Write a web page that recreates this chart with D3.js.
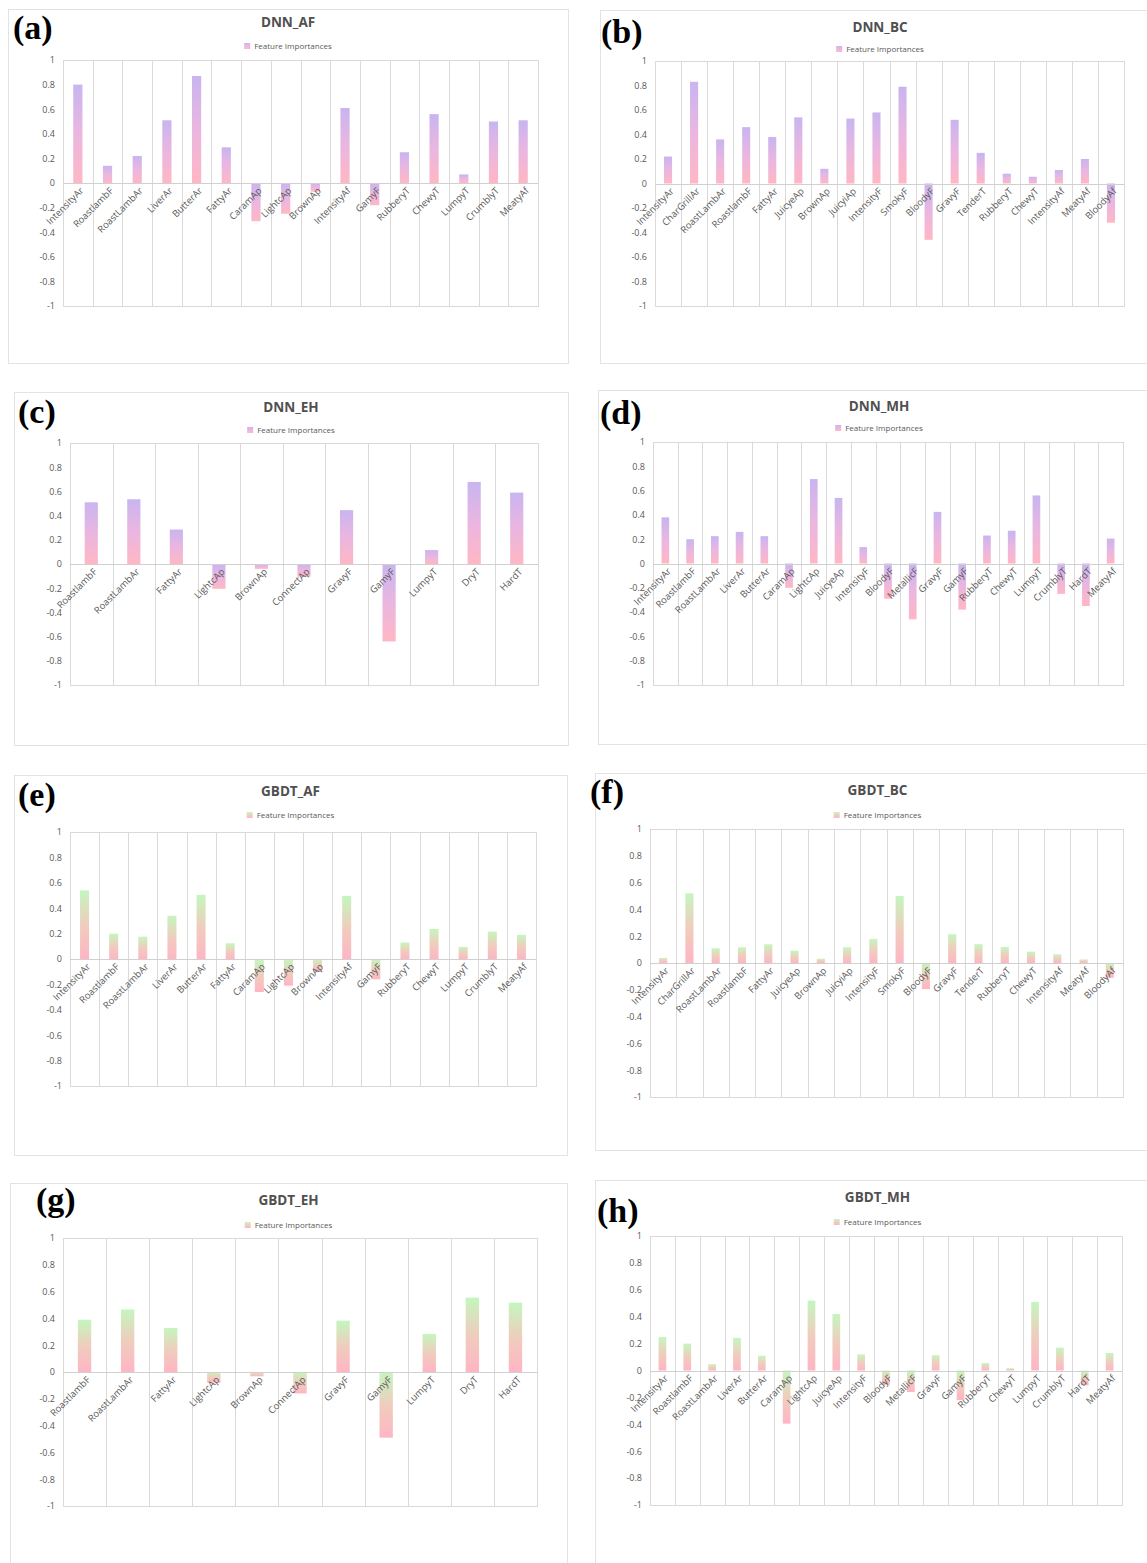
<!DOCTYPE html>
<html>
<head>
<meta charset="utf-8">
<script src="https://cdn.jsdelivr.net/npm/d3@7"></script>
<style>
  html, body { margin: 0; padding: 0; background: #fff; }
  svg { display: block; }
</style>
</head>
<body>
<svg id="fig" width="1147" height="1563"></svg>
<script>
// ---- category labels -------------------------------------------------------
const catsAF = ["IntensityAr", "RoastlambF", "RoastLambAr", "LiverAr", "ButterAr", "FattyAr",
  "CaramAp", "LightcAp", "BrownAp", "IntensityAf", "GamyF", "RubberyT", "ChewyT", "LumpyT",
  "CrumblyT", "MeatyAf"];
const catsBC = ["IntensityAr", "CharGrillAr", "RoastLambAr", "RoastlambF", "FattyAr", "JuicyeAp",
  "BrownAp", "JuicyiAp", "IntensityF", "SmokyF", "BloodyF", "GravyF", "TenderT", "RubberyT",
  "ChewyT", "IntensityAf", "MeatyAf", "BloodyAf"];
const catsEH = ["RoastlambF", "RoastLambAr", "FattyAr", "LightcAp", "BrownAp", "ConnectAp",
  "GravyF", "GamyF", "LumpyT", "DryT", "HardT"];
const catsMH = ["IntensityAr", "RoastlambF", "RoastLambAr", "LiverAr", "ButterAr", "CaramAp",
  "LightcAp", "JuicyeAp", "IntensityF", "BloodyF", "MetallicF", "GravyF", "GamyF", "RubberyT",
  "ChewyT", "LumpyT", "CrumblyT", "HardT", "MeatyAf"];

// ---- feature importances: DNN models ---------------------------------------
const dnnAF = [0.80, 0.14, 0.22, 0.51, 0.87, 0.29, -0.31, -0.25, -0.07, 0.61, -0.18, 0.25, 0.56, 0.07, 0.50, 0.51];
const dnnBC = [0.22, 0.83, 0.36, 0.46, 0.38, 0.54, 0.12, 0.53, 0.58, 0.79, -0.46, 0.52, 0.25, 0.08, 0.055, 0.11, 0.20, -0.32];
const dnnEH = [0.51, 0.535, 0.285, -0.205, -0.04, -0.105, 0.445, -0.64, 0.115, 0.678, 0.59];
const dnnMH = [0.38, 0.20, 0.225, 0.26, 0.225, -0.20, 0.695, 0.54, 0.135, -0.29, -0.46, 0.425, -0.38, 0.23, 0.27, 0.56, -0.25, -0.35, 0.205];

// ---- feature importances: GBDT models --------------------------------------
const gbdtAF = [0.54, 0.20, 0.176, 0.34, 0.505, 0.124, -0.26, -0.21, -0.10, 0.497, -0.16, 0.13, 0.237, 0.095, 0.216, 0.19];
const gbdtBC = [0.037, 0.52, 0.11, 0.117, 0.14, 0.092, 0.032, 0.117, 0.18, 0.50, -0.195, 0.215, 0.14, 0.12, 0.085, 0.065, 0.027, -0.11];
const gbdtEH = [0.39, 0.467, 0.328, -0.08, -0.032, -0.16, 0.383, -0.49, 0.284, 0.555, 0.517];
const gbdtMH = [0.25, 0.20, 0.047, 0.243, 0.11, -0.395, 0.52, 0.42, 0.12, -0.107, -0.16, 0.114, -0.22, 0.055, 0.017, 0.51, 0.17, -0.11, 0.13];

// ---- axis ticks and text ---------------------------------------------------
const yTicks = [1, 0.8, 0.6, 0.4, 0.2, 0, -0.2, -0.4, -0.6, -0.8, -1];
const yTickLabels = ["1", "0.8", "0.6", "0.4", "0.2", "0", "-0.2", "-0.4", "-0.6", "-0.8", "-1"];
const legendText = "Feature Importances";

// ---- panel placement on the page -------------------------------------------
const panels = [
  { tag: "(a)", title: "DNN_AF",  cats: catsAF, vals: dnnAF,  fill: "dnn",
    box: [8, 9, 560, 354],    plot: [63, 60, 538, 306],     titleY: 27,   legendY: 46,   tagXY: [13, 39] },
  { tag: "(b)", title: "DNN_BC",  cats: catsBC, vals: dnnBC,  fill: "dnn",
    box: [600, 10, 560, 353], plot: [655, 61, 1124, 306],   titleY: 32,   legendY: 49,   tagXY: [601, 43] },
  { tag: "(c)", title: "DNN_EH",  cats: catsEH, vals: dnnEH,  fill: "dnn",
    box: [14, 392, 554, 353], plot: [70, 443, 538, 685],    titleY: 412,  legendY: 430,  tagXY: [18, 423] },
  { tag: "(d)", title: "DNN_MH",  cats: catsMH, vals: dnnMH,  fill: "dnn",
    box: [598, 390, 562, 354], plot: [653, 442, 1123, 685], titleY: 411,  legendY: 428,  tagXY: [600, 424] },
  { tag: "(e)", title: "GBDT_AF", cats: catsAF, vals: gbdtAF, fill: "gbdt",
    box: [14, 775, 553, 380], plot: [70, 832, 536, 1086],   titleY: 796,  legendY: 815,  tagXY: [18, 806] },
  { tag: "(f)", title: "GBDT_BC", cats: catsBC, vals: gbdtBC, fill: "gbdt",
    box: [595, 773, 565, 377], plot: [650, 829, 1123, 1097], titleY: 795, legendY: 815,  tagXY: [590, 803] },
  { tag: "(g)", title: "GBDT_EH", cats: catsEH, vals: gbdtEH, fill: "gbdt",
    box: [10, 1183, 557, 400], plot: [63, 1238, 537, 1506], titleY: 1205, legendY: 1225, tagXY: [36, 1211] },
  { tag: "(h)", title: "GBDT_MH", cats: catsMH, vals: gbdtMH, fill: "gbdt",
    box: [595, 1180, 565, 400], plot: [650, 1236, 1122, 1505], titleY: 1202, legendY: 1222, tagXY: [597, 1222] }
];

const sans = '"Open Sans", "Noto Sans", sans-serif';
const serif = '"Liberation Serif", "Times New Roman", serif';
const svg = d3.select("#fig");

// Vertical gradient fills: lavender/green at the top of each bar, pink at the bottom
const defs = svg.append("defs");
const gradients = {
  dnn:  [["0%", "#c8b5f0"], ["50%", "#eab6e0"], ["100%", "#ffb7c4"]],
  gbdt: [["0%", "#c4f6be"], ["50%", "#efcdbd"], ["100%", "#ffb5c4"]]
};
Object.entries(gradients).forEach(([key, stops]) => {
  const g = defs.append("linearGradient").attr("id", "grad-" + key)
    .attr("x1", 0).attr("y1", 0).attr("x2", 0).attr("y2", 1);
  stops.forEach(([o, c]) => g.append("stop").attr("offset", o).attr("stop-color", c));
});

const gridColor = "#d9d9d9";
const textColor = "#595959";

panels.forEach(p => {
  const g = svg.append("g");
  const [bx, by, bw, bh] = p.box;
  const [x0, y0, x1, y1] = p.plot;

  // chart frame
  g.append("rect").attr("x", bx + 0.5).attr("y", by + 0.5)
    .attr("width", bw).attr("height", bh)
    .attr("fill", "#fff").attr("stroke", "#e3e3e3").attr("stroke-width", 1);

  const x = d3.scaleBand().domain(p.cats).range([x0, x1]).paddingInner(0).paddingOuter(0);
  const y = d3.scaleLinear().domain([-1, 1]).range([y1, y0]);

  // plot frame and vertical separators between categories
  g.append("rect").attr("x", x0 + 0.5).attr("y", y0 + 0.5)
    .attr("width", x1 - x0).attr("height", y1 - y0)
    .attr("fill", "none").attr("stroke", gridColor);
  g.append("g").selectAll("line").data(p.cats.slice(1)).join("line")
    .attr("x1", d => Math.round(x(d)) + 0.5).attr("x2", d => Math.round(x(d)) + 0.5)
    .attr("y1", y0).attr("y2", y1)
    .attr("stroke", gridColor);

  // y axis tick labels
  const yAxis = d3.axisLeft(y).tickValues(yTicks).tickSize(0).tickPadding(8)
    .tickFormat((d, i) => yTickLabels[i]);
  const ya = g.append("g").attr("transform", `translate(${x0},0)`).call(yAxis);
  ya.select(".domain").remove();
  ya.selectAll("text").attr("fill", textColor).attr("font-size", 9)
    .style("font-family", sans);

  // bars
  const bw2 = x.bandwidth() * 0.31;
  g.append("g").selectAll("rect").data(p.vals).join("rect")
    .attr("x", (d, i) => x(p.cats[i]) + (x.bandwidth() - bw2) / 2)
    .attr("y", d => y(Math.max(0, d)))
    .attr("width", bw2)
    .attr("height", d => Math.abs(y(d) - y(0)))
    .attr("fill", `url(#grad-${p.fill})`);

  // zero axis line
  g.append("line").attr("x1", x0).attr("x2", x1)
    .attr("y1", Math.round(y(0)) + 0.5).attr("y2", Math.round(y(0)) + 0.5)
    .attr("stroke", "#d0d0d0");

  // rotated category labels hanging from the zero line
  g.append("g").selectAll("text").data(p.cats).join("text")
    .attr("transform", d => `translate(${x(d) + x.bandwidth() / 2 + 4},${y(0) + 6}) rotate(-45)`)
    .attr("text-anchor", "end")
    .attr("dy", "0.35em")
    .attr("font-size", 9.5)
    .attr("fill", textColor)
    .style("font-family", sans)
    .text(d => d);

  // title
  const cx = bx + bw / 2;
  g.append("text").attr("x", cx).attr("y", p.titleY)
    .attr("text-anchor", "middle").attr("font-size", 13.5).attr("font-weight", 700)
    .attr("fill", "#505050").style("font-family", sans).text(p.title);

  // legend: swatch + series name, centred under the title
  const lg = g.append("g").attr("transform", `translate(${cx},${p.legendY})`);
  const lt = lg.append("text").attr("x", 0).attr("y", 0).attr("dy", "0.35em")
    .attr("font-size", 8).attr("fill", textColor).style("font-family", sans).text(legendText);
  const tw = lt.node().getComputedTextLength();
  const total = 6 + 4 + tw;
  lt.attr("x", -total / 2 + 10);
  lg.append("rect").attr("x", -total / 2).attr("y", -3).attr("width", 6).attr("height", 6)
    .attr("fill", `url(#grad-${p.fill})`);

  // panel tag
  g.append("text").attr("x", p.tagXY[0]).attr("y", p.tagXY[1])
    .style("font-family", serif)
    .attr("font-weight", 700).attr("font-size", 34).attr("fill", "#000")
    .text(p.tag);
});
</script>
</body>
</html>
